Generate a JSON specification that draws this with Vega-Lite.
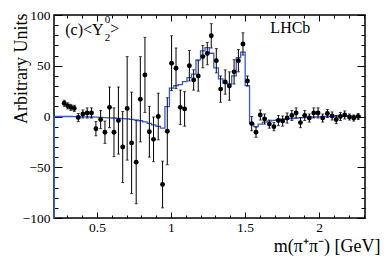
{
  "$schema": "https://vega.github.io/schema/vega-lite/v6.json",
  "width": 311,
  "height": 203,
  "autosize": "none",
  "padding": {"left": 54, "top": 15, "right": 19, "bottom": 42},
  "background": "white",
  "config": {
    "font": "Liberation Serif",
    "view": {"stroke": "black", "strokeWidth": 1.5},
    "axis": {
      "labelFont": "Liberation Serif",
      "titleFont": "Liberation Serif",
      "labelFontSize": 13.5,
      "titleFontSize": 18,
      "titleFontWeight": "normal",
      "labelColor": "black",
      "titleColor": "black",
      "tickColor": "black",
      "tickWidth": 1,
      "domain": false,
      "grid": false,
      "labelOverlap": false,
      "labelFlush": false
    }
  },
  "datasets": {
    "pts": [
      {"m": 0.279, "v": 13, "e": 3}, {"m": 0.303, "v": 10.5, "e": 3}, {"m": 0.324, "v": 9, "e": 3}, {"m": 0.347, "v": 8, "e": 3},
      {"m": 0.374, "v": -1, "e": 4}, {"m": 0.405, "v": 2.5, "e": 4}, {"m": 0.434, "v": 3.5, "e": 5}, {"m": 0.463, "v": 3.5, "e": 5},
      {"m": 0.493, "v": -12, "e": 7}, {"m": 0.525, "v": -3, "e": 9}, {"m": 0.554, "v": -15.5, "e": 11}, {"m": 0.585, "v": 9, "e": 20},
      {"m": 0.615, "v": -15.5, "e": 24}, {"m": 0.645, "v": -4, "e": 33}, {"m": 0.674, "v": -30, "e": 35}, {"m": 0.704, "v": 8, "e": 51},
      {"m": 0.734, "v": -26, "e": 50}, {"m": 0.765, "v": -45, "e": 41}, {"m": 0.793, "v": 17, "e": 42}, {"m": 0.824, "v": 41, "e": 37},
      {"m": 0.854, "v": -15, "e": 25}, {"m": 0.882, "v": -22.5, "e": 22}, {"m": 0.914, "v": 0, "e": 23}, {"m": 0.943, "v": -67, "e": 23},
      {"m": 0.975, "v": -14.5, "e": 33}, {"m": 1.004, "v": 52.5, "e": 27}, {"m": 1.034, "v": 47.5, "e": 20}, {"m": 1.063, "v": 9, "e": 17},
      {"m": 1.092, "v": 7.5, "e": 17}, {"m": 1.124, "v": 50, "e": 15}, {"m": 1.153, "v": 36, "e": 10}, {"m": 1.184, "v": 40, "e": 15},
      {"m": 1.215, "v": 59, "e": 11}, {"m": 1.245, "v": 62, "e": 11}, {"m": 1.272, "v": 79.5, "e": 12}, {"m": 1.306, "v": 55, "e": 12},
      {"m": 1.335, "v": 27, "e": 13}, {"m": 1.366, "v": 34, "e": 12}, {"m": 1.394, "v": 30, "e": 14}, {"m": 1.426, "v": 44, "e": 12},
      {"m": 1.455, "v": 55, "e": 11}, {"m": 1.486, "v": 71.5, "e": 11}, {"m": 1.516, "v": 35, "e": 5}, {"m": 1.545, "v": -7, "e": 7},
      {"m": 1.574, "v": -15.5, "e": 5}, {"m": 1.603, "v": 1.5, "e": 5}, {"m": 1.632, "v": -2.5, "e": 5}, {"m": 1.664, "v": -7.5, "e": 4},
      {"m": 1.695, "v": -10, "e": 4}, {"m": 1.725, "v": -4, "e": 5}, {"m": 1.754, "v": -4.5, "e": 5}, {"m": 1.784, "v": -1.5, "e": 5},
      {"m": 1.816, "v": 1, "e": 5}, {"m": 1.845, "v": 3.5, "e": 5}, {"m": 1.874, "v": -6, "e": 5}, {"m": 1.903, "v": 1, "e": 5},
      {"m": 1.934, "v": -1.5, "e": 4}, {"m": 1.964, "v": 3.5, "e": 5}, {"m": 1.993, "v": 3.5, "e": 5}, {"m": 2.024, "v": -1.5, "e": 4},
      {"m": 2.056, "v": 3, "e": 4}, {"m": 2.088, "v": 0.5, "e": 4}, {"m": 2.116, "v": -3, "e": 4}, {"m": 2.144, "v": 0, "e": 4},
      {"m": 2.173, "v": 1.5, "e": 4}, {"m": 2.205, "v": -0.5, "e": 3}, {"m": 2.234, "v": -1.5, "e": 3}, {"m": 2.264, "v": 0, "e": 3}
    ],
    "fit": [
      {"m": 0.211, "f": 0}, {"m": 0.279, "f": 0}, {"m": 0.303, "f": 0}, {"m": 0.324, "f": 0}, {"m": 0.347, "f": -0.1},
      {"m": 0.374, "f": -0.2}, {"m": 0.405, "f": -0.3}, {"m": 0.434, "f": -0.4}, {"m": 0.463, "f": -0.5}, {"m": 0.493, "f": -0.7},
      {"m": 0.525, "f": -0.9}, {"m": 0.554, "f": -1.1}, {"m": 0.585, "f": -1.3}, {"m": 0.615, "f": -1.5}, {"m": 0.645, "f": -1.8},
      {"m": 0.674, "f": -2.1}, {"m": 0.704, "f": -2.4}, {"m": 0.734, "f": -2.8}, {"m": 0.765, "f": -3.4}, {"m": 0.793, "f": -4.2},
      {"m": 0.824, "f": -5.3}, {"m": 0.854, "f": -6.7}, {"m": 0.882, "f": -8.2}, {"m": 0.914, "f": -9.8}, {"m": 0.943, "f": -11.4},
      {"m": 0.975, "f": 9.8}, {"m": 1.004, "f": 28}, {"m": 1.034, "f": 30.5}, {"m": 1.063, "f": 31.5}, {"m": 1.092, "f": 34.4},
      {"m": 1.124, "f": 38.3}, {"m": 1.153, "f": 41.7}, {"m": 1.184, "f": 55.7}, {"m": 1.215, "f": 64.6}, {"m": 1.245, "f": 67.8},
      {"m": 1.272, "f": 62.3}, {"m": 1.306, "f": 48}, {"m": 1.335, "f": 37}, {"m": 1.366, "f": 33}, {"m": 1.394, "f": 32},
      {"m": 1.426, "f": 40}, {"m": 1.455, "f": 58}, {"m": 1.486, "f": 63.5}, {"m": 1.516, "f": 30.5}, {"m": 1.545, "f": -7},
      {"m": 1.574, "f": -10}, {"m": 1.603, "f": -7.5}, {"m": 1.632, "f": -5.5}, {"m": 1.664, "f": -4.5}, {"m": 1.695, "f": -3.8},
      {"m": 1.725, "f": -3.2}, {"m": 1.754, "f": -2.7}, {"m": 1.784, "f": -2.3}, {"m": 1.816, "f": -2}, {"m": 1.845, "f": -1.6},
      {"m": 1.874, "f": -1.3}, {"m": 1.903, "f": -1}, {"m": 1.934, "f": -0.7}, {"m": 1.964, "f": -0.5}, {"m": 1.993, "f": -0.3},
      {"m": 2.024, "f": -0.1}, {"m": 2.056, "f": 0}, {"m": 2.088, "f": 0.2}, {"m": 2.116, "f": 0.3}, {"m": 2.144, "f": 0.4},
      {"m": 2.173, "f": 0.5}, {"m": 2.205, "f": 0.6}, {"m": 2.234, "f": 0.7}, {"m": 2.264, "f": 0.7}, {"m": 2.285, "f": 0.7}
    ]
  },
  "layer": [
    {
      "data": {"name": "fit"},
      "mark": {"type": "line", "interpolate": "step", "color": "#3a5bc7", "strokeWidth": 1.3},
      "encoding": {
        "x": {
          "field": "m", "type": "quantitative",
          "scale": {"domain": [0.21, 2.31], "nice": false, "zero": false},
          "axis": {
            "orient": "top", "title": null, "labels": false,
            "values": [0.3,0.4,0.5,0.6,0.7,0.8,0.9,1.0,1.1,1.2,1.3,1.4,1.5,1.6,1.7,1.8,1.9,2.0,2.1,2.2,2.3],
            "tickSize": {"condition": {"test": "abs(datum.value*2 - round(datum.value*2)) < 0.001", "value": -6}, "value": -3}
          }
        },
        "y": {
          "field": "f", "type": "quantitative",
          "scale": {"domain": [-100, 100], "nice": false},
          "axis": {
            "orient": "right", "title": null, "labels": false,
            "values": [-100,-90,-80,-70,-60,-50,-40,-30,-20,-10,0,10,20,30,40,50,60,70,80,90,100],
            "tickSize": {"condition": {"test": "datum.value % 50 === 0", "value": -8}, "value": -4}
          }
        }
      }
    },
    {
      "data": {"values": [{}]},
      "mark": {"type": "rule", "color": "#3a5bc7", "strokeWidth": 1.5},
      "encoding": {
        "x": {"datum": 0.211, "type": "quantitative", "axis": null},
        "y": {"datum": -100, "type": "quantitative", "axis": null},
        "y2": {"datum": 0}
      }
    },
    {
      "data": {"name": "pts"},
      "mark": {"type": "errorbar", "color": "black", "rule": {"strokeWidth": 1}, "ticks": {"size": 3, "thickness": 1}},
      "encoding": {
        "x": {"field": "m", "type": "quantitative", "axis": null},
        "y": {"field": "v", "type": "quantitative", "axis": null},
        "yError": {"field": "e"}
      }
    },
    {
      "data": {"name": "pts"},
      "mark": {"type": "circle", "size": 24, "color": "black", "opacity": 1},
      "encoding": {
        "x": {
          "field": "m", "type": "quantitative",
          "axis": {
            "orient": "bottom", "title": "m(π⁺π⁻) [GeV]", "format": "~g",
            "values": [0.3,0.4,0.5,0.6,0.7,0.8,0.9,1.0,1.1,1.2,1.3,1.4,1.5,1.6,1.7,1.8,1.9,2.0,2.1,2.2,2.3],
            "labelExpr": "abs(datum.value*2 - round(datum.value*2)) < 0.001 ? datum.label : ''",
            "tickSize": {"condition": {"test": "abs(datum.value*2 - round(datum.value*2)) < 0.001", "value": -6}, "value": -3},
            "labelPadding": 8.5, "labelBaseline": "top",
            "titleX": 326, "titleY": 33, "titleAlign": "right", "titleAnchor": null, "titleBaseline": "alphabetic"
          }
        },
        "y": {
          "field": "v", "type": "quantitative",
          "axis": {
            "orient": "left", "title": "Arbitrary Units", "format": "d",
            "values": [-100,-90,-80,-70,-60,-50,-40,-30,-20,-10,0,10,20,30,40,50,60,70,80,90,100],
            "labelExpr": "datum.value % 50 === 0 ? datum.label : ''",
            "tickSize": {"condition": {"test": "datum.value % 50 === 0", "value": -8}, "value": -4},
            "labelPadding": 12,
            "titleX": -33, "titleY": -2, "titleAngle": -90, "titleAlign": "right", "titleBaseline": "middle"
          }
        }
      }
    },
    {
      "data": {"values": [{}]},
      "mark": {"type": "text", "text": "(c)<Y", "align": "left", "baseline": "alphabetic", "fontSize": 16, "font": "Liberation Serif", "color": "black"},
      "encoding": {"x": {"datum": 0.286, "type": "quantitative", "axis": null}, "y": {"datum": 80.3, "type": "quantitative", "axis": null}}
    },
    {
      "data": {"values": [{}]},
      "mark": {"type": "text", "text": "0", "align": "left", "baseline": "alphabetic", "fontSize": 11, "font": "Liberation Serif", "color": "black"},
      "encoding": {"x": {"datum": 0.553, "type": "quantitative", "axis": null}, "y": {"datum": 91.8, "type": "quantitative", "axis": null}}
    },
    {
      "data": {"values": [{}]},
      "mark": {"type": "text", "text": "2", "align": "left", "baseline": "alphabetic", "fontSize": 11, "font": "Liberation Serif", "color": "black"},
      "encoding": {"x": {"datum": 0.553, "type": "quantitative", "axis": null}, "y": {"datum": 74, "type": "quantitative", "axis": null}}
    },
    {
      "data": {"values": [{}]},
      "mark": {"type": "text", "text": ">", "align": "left", "baseline": "alphabetic", "fontSize": 16, "font": "Liberation Serif", "color": "black"},
      "encoding": {"x": {"datum": 0.59, "type": "quantitative", "axis": null}, "y": {"datum": 81.3, "type": "quantitative", "axis": null}}
    },
    {
      "data": {"values": [{}]},
      "mark": {"type": "text", "text": "LHCb", "align": "left", "baseline": "alphabetic", "fontSize": 16, "font": "Liberation Serif", "color": "black"},
      "encoding": {"x": {"datum": 1.671, "type": "quantitative", "axis": null}, "y": {"datum": 82.3, "type": "quantitative", "axis": null}}
    }
  ],
  "resolve": {"axis": {"x": "independent", "y": "independent"}}
}
